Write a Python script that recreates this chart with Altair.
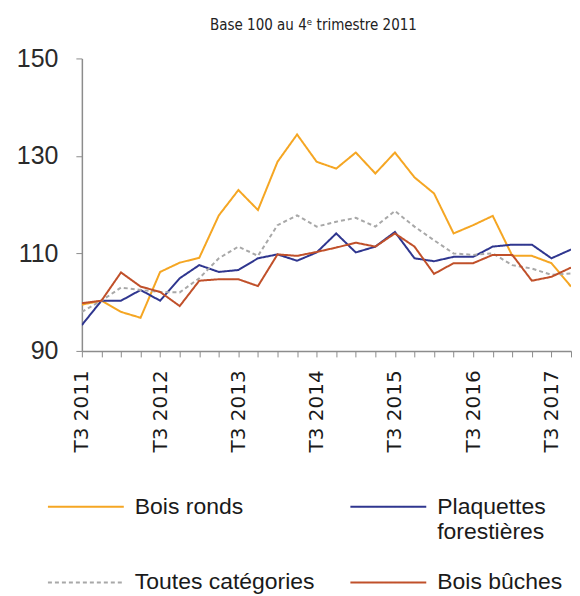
import altair as alt
import pandas as pd

quarters = [
    "T3 2011", "T4 2011", "T1 2012", "T2 2012", "T3 2012", "T4 2012",
    "T1 2013", "T2 2013", "T3 2013", "T4 2013", "T1 2014", "T2 2014",
    "T3 2014", "T4 2014", "T1 2015", "T2 2015", "T3 2015", "T4 2015",
    "T1 2016", "T2 2016", "T3 2016", "T4 2016", "T1 2017", "T2 2017",
    "T3 2017", "T4 2017",
]

bois_ronds = [99.5, 100.3, 98.0, 96.8, 106.2, 108.1, 109.1, 117.8, 123.0, 118.9,
              128.8, 134.4, 128.8, 127.4, 130.7, 126.4, 130.7, 125.6, 122.3, 114.1,
              115.8, 117.7, 109.5, 109.5, 108.0, 103.2]
plaquettes = [95.3, 100.3, 100.3, 102.5, 100.3, 104.9, 107.6, 106.2, 106.6, 109.0,
              109.8, 108.5, 110.2, 114.1, 110.2, 111.4, 114.4, 109.0, 108.4, 109.3,
              109.3, 111.4, 111.8, 111.8, 109.0, 110.8]
toutes = [98.0, 100.3, 103.0, 102.5, 102.1, 102.0, 104.9, 109.0, 111.4, 109.5,
          115.8, 117.8, 115.5, 116.5, 117.3, 115.5, 118.7, 115.5, 112.7, 110.0,
          109.7, 110.0, 107.6, 106.9, 105.6, 105.9]
bois_buches = [99.8, 100.3, 106.1, 103.2, 102.1, 99.2, 104.4, 104.7, 104.7, 103.3,
               109.8, 109.5, 110.3, 111.2, 112.2, 111.4, 114.1, 111.4, 105.8, 108.0,
               108.0, 109.7, 109.7, 104.4, 105.2, 107.1]

series_names = ["Bois ronds", "Plaquettes forestières", "Toutes catégories", "Bois bûches"]
series_values = [bois_ronds, plaquettes, toutes, bois_buches]
series_colors = ["#f5a623", "#2f368f", "#a8a8a8", "#c0502a"]
series_dash = [[1, 0], [1, 0], [4, 3], [1, 0]]
draw_order = [2, 0, 3, 1]

y_ticks = [90, 110, 130, 150]

rows = []
for name, vals in zip(series_names, series_values):
    for q, v in zip(quarters, vals):
        rows.append({"trimestre": q, "indice": v, "serie": name,
                     "ordre": draw_order[series_names.index(name)]})
df = pd.DataFrame(rows)

is_t3 = "indexof(datum.value, 'T3') == 0"
label_expr = (
    "datum.label == 'Plaquettes forestières' ? ['Plaquettes', 'forestières'] : "
    "datum.label == 'Bois ronds' ? ['Bois ronds', ' '] : datum.label"
)

chart = alt.Chart(df).mark_line(strokeWidth=2, clip=True).encode(
    x=alt.X("trimestre:O", sort=quarters, scale=alt.Scale(type="point", padding=0),
            axis=alt.Axis(title=None, labelAngle=270,
                          labelExpr=f"{is_t3} ? datum.value : ''",
                          labelFont="DejaVu Sans",
                          labelFontSize={"condition": {"test": is_t3, "value": 20}, "value": 0},
                          labelColor="#1a1a1a",
                          labelPadding=13, tickSize=6, tickColor="#8c8c8c",
                          domainColor="#8c8c8c", domainWidth=1.5, grid=False)),
    y=alt.Y("indice:Q", scale=alt.Scale(domain=[90, 150], nice=False, zero=False),
            axis=alt.Axis(title=None, values=y_ticks, labelFont="Liberation Sans",
                          labelFontSize=25, labelColor="#2a2a2a", labelPadding=18,
                          tickSize=6, tickColor="#8c8c8c", domainColor="#8c8c8c",
                          domainWidth=1.5, grid=False)),
    color=alt.Color("serie:N", sort=series_names,
                    scale=alt.Scale(domain=series_names, range=series_colors),
                    legend=alt.Legend(title=None, orient="none", legendX=-35, legendY=410,
                                      direction="horizontal",
                                      columns=2, columnPadding=31, rowPadding=0,
                                      symbolType="stroke", symbolSize=5776,
                                      symbolStrokeWidth=2, labelOffset=10,
                                      labelFont="Liberation Sans", labelFontSize=23,
                                      labelColor="#1a1a1a", labelLimit=300,
                                      labelExpr=label_expr)),
    strokeDash=alt.StrokeDash("serie:N", sort=series_names,
                              scale=alt.Scale(domain=series_names, range=series_dash),
                              legend=None),
    order=alt.Order("ordre:Q"),
).properties(
    width=490,
    height=293,
    padding={"left": 8, "top": 10, "right": 0, "bottom": 0},
    title=alt.TitleParams("Base 100 au 4ᵉ trimestre 2011",
                          font="Liberation Sans Narrow, DejaVu Sans Condensed, Liberation Sans",
                          fontSize=15, fontWeight="normal", color="#222222",
                          anchor="middle", dx=-13, offset=13),
).configure_view(stroke=None)

chart.save("out.html", embed_options={"renderer": "svg", "actions": False})
